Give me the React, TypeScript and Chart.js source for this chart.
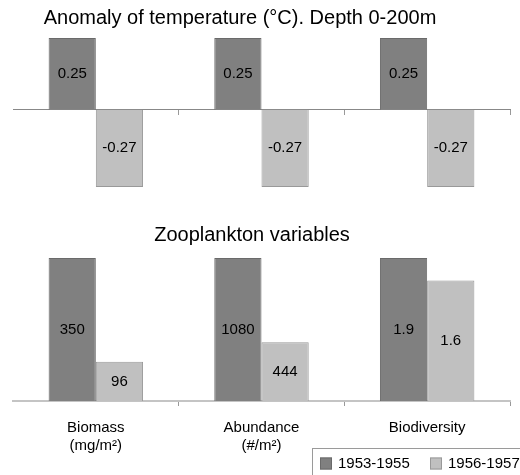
import React, { useEffect, useRef } from "react";
import { Chart, registerables } from "chart.js";

Chart.register(...registerables);

// ---- data ----
const groups = ["G1", "G2", "G3"];
const tempSeries1 = [0.25, 0.25, 0.25];
const tempSeries2 = [-0.27, -0.27, -0.27];

const zooCategories = [["Biomass", "(mg/m²)"], ["Abundance", "(#/m²)"], ["Biodiversity"]];
const zooSeries1 = [350, 1080, 1.9];
const zooSeries2 = [96, 444, 1.6];

const seriesNames = ["1953-1955", "1956-1957"];
const topTitle = "Anomaly of temperature (°C). Depth 0-200m";
const bottomTitle = "Zooplankton variables";

const FONT = "'Liberation Sans', Arial, sans-serif";
const DARK = "#808080";
const DARK_B = "#6a6a6a";
const LIGHT = "#c0c0c0";
const LIGHT_B = "#999999";

const edgeTransparent = (n: number, col: string) => (ctx: any) =>
  ctx.index === 0 || ctx.index === n ? "rgba(0,0,0,0)" : col;

const valueLabelPlugin = {
  id: "valueLabels",
  afterDatasetsDraw(chart: any) {
    const ctx = chart.ctx;
    ctx.save();
    ctx.font = `15px ${FONT}`;
    ctx.fillStyle = "#000";
    ctx.textAlign = "center";
    ctx.textBaseline = "middle";
    chart.data.datasets.forEach((ds: any, di: number) => {
      const meta = chart.getDatasetMeta(di);
      const raw: number[] = ds.rawValues || ds.data;
      meta.data.forEach((el: any, i: number) => {
        const props = el.getProps(["x", "y", "base"], true);
        ctx.fillText(String(raw[i]), props.x, (props.y + props.base) / 2);
      });
    });
    ctx.restore();
  },
};

const titlePlugin = {
  id: "freeTitle",
  afterDraw(chart: any, _args: any, opts: any) {
    if (!opts || !opts.text) return;
    const ctx = chart.ctx;
    ctx.save();
    ctx.font = `${opts.size}px ${FONT}`;
    ctx.fillStyle = "#000";
    ctx.textAlign = "center";
    ctx.textBaseline = "middle";
    ctx.fillText(opts.text, opts.x, opts.y);
    ctx.restore();
  },
};

const boxLegendPlugin = {
  id: "boxLegend",
  afterDraw(chart: any, _args: any, opts: any) {
    if (!opts || !opts.show) return;
    const ctx = chart.ctx;
    ctx.save();
    ctx.strokeStyle = "#9a9a9a";
    ctx.lineWidth = 1;
    ctx.strokeRect(opts.x + 0.5, opts.y + 0.5, 260, 40);
    ctx.font = `15px ${FONT}`;
    ctx.textBaseline = "middle";
    ctx.textAlign = "left";
    let x = opts.x + 8;
    const cy = opts.y + 15.5;
    chart.data.datasets.forEach((ds: any) => {
      ctx.fillStyle = ds.backgroundColor;
      ctx.fillRect(x, cy - 6, 12, 12);
      ctx.strokeStyle = ds.borderColor;
      ctx.strokeRect(x + 0.5, cy - 5.5, 11, 11);
      ctx.fillStyle = "#000";
      ctx.fillText(ds.label, x + 18, cy);
      x += 110;
    });
    ctx.restore();
  },
};

export default function App() {
  const topRef = useRef<HTMLCanvasElement>(null);
  const botRef = useRef<HTMLCanvasElement>(null);

  useEffect(() => {
    const top = new Chart(topRef.current!, {
      type: "bar",
      data: {
        labels: groups,
        datasets: [
          { label: seriesNames[0], data: tempSeries1, backgroundColor: DARK, borderColor: DARK_B, borderWidth: 1 },
          { label: seriesNames[1], data: tempSeries2, backgroundColor: LIGHT, borderColor: LIGHT_B, borderWidth: 1 },
        ],
      },
      options: {
        responsive: false,
        animation: false,
        events: [],
        layout: { padding: { left: 13, right: 10, top: 38, bottom: 13 } },
        datasets: { bar: { categoryPercentage: 0.57, barPercentage: 1 } },
        plugins: {
          legend: { display: false },
          tooltip: { enabled: false },
          freeTitle: { text: topTitle, size: 20, x: 240, y: 18 },
        } as any,
        scales: {
          x: {
            position: { y: 0 } as any,
            offset: true,
            ticks: { display: false },
            grid: {
              offset: true,
              drawOnChartArea: false,
              drawTicks: true,
              tickLength: 5,
              color: edgeTransparent(groups.length, "#999999"),
            },
            border: { display: true, color: "#888888", width: 1 },
          },
          y: {
            display: false,
            min: Math.min(...tempSeries2),
            max: Math.max(...tempSeries1),
          },
        },
      },
      plugins: [valueLabelPlugin, titlePlugin],
    });

    const groupMax = zooSeries1.map((v, i) => Math.max(v, zooSeries2[i]));
    const bottom = new Chart(botRef.current!, {
      type: "bar",
      data: {
        labels: zooCategories as any,
        datasets: [
          {
            label: seriesNames[0],
            data: zooSeries1.map((v, i) => v / groupMax[i]),
            rawValues: zooSeries1,
            backgroundColor: DARK,
            borderColor: DARK_B,
            borderWidth: 1,
          } as any,
          {
            label: seriesNames[1],
            data: zooSeries2.map((v, i) => v / groupMax[i]),
            rawValues: zooSeries2,
            backgroundColor: LIGHT,
            borderColor: LIGHT_B,
            borderWidth: 1,
          } as any,
        ],
      },
      options: {
        responsive: false,
        animation: false,
        events: [],
        layout: { padding: { left: 13, right: 10, top: 58, bottom: 14 } },
        datasets: { bar: { categoryPercentage: 0.57, barPercentage: 1 } },
        plugins: {
          legend: { display: false },
          tooltip: { enabled: false },
          freeTitle: { text: bottomTitle, size: 20, x: 252, y: 35 },
          boxLegend: { show: true, x: 312, y: 248 },
        } as any,
        scales: {
          x: {
            offset: true,
            afterFit: (s: any) => {
              s.height = 60;
            },
            ticks: {
              color: "#000",
              font: { family: FONT, size: 15 },
              padding: 13,
              maxRotation: 0,
              autoSkip: false,
            },
            grid: {
              offset: true,
              drawOnChartArea: false,
              drawTicks: true,
              tickLength: 5,
              color: edgeTransparent(zooCategories.length, "#999999"),
            },
            border: { display: true, color: "#c4c4c4", width: 2 },
          },
          y: { display: false, min: 0, max: 1 },
        },
      },
      plugins: [valueLabelPlugin, titlePlugin, boxLegendPlugin],
    });

    return () => {
      top.destroy();
      bottom.destroy();
    };
  }, []);

  return (
    <div style={{ position: "absolute", left: 0, top: 0, width: 520, height: 475, background: "#fff", overflow: "hidden" }}>
      <canvas ref={topRef} width={520} height={200} style={{ position: "absolute", left: 0, top: 0 }} />
      <canvas ref={botRef} width={520} height={275} style={{ position: "absolute", left: 0, top: 200 }} />
    </div>
  );
}
